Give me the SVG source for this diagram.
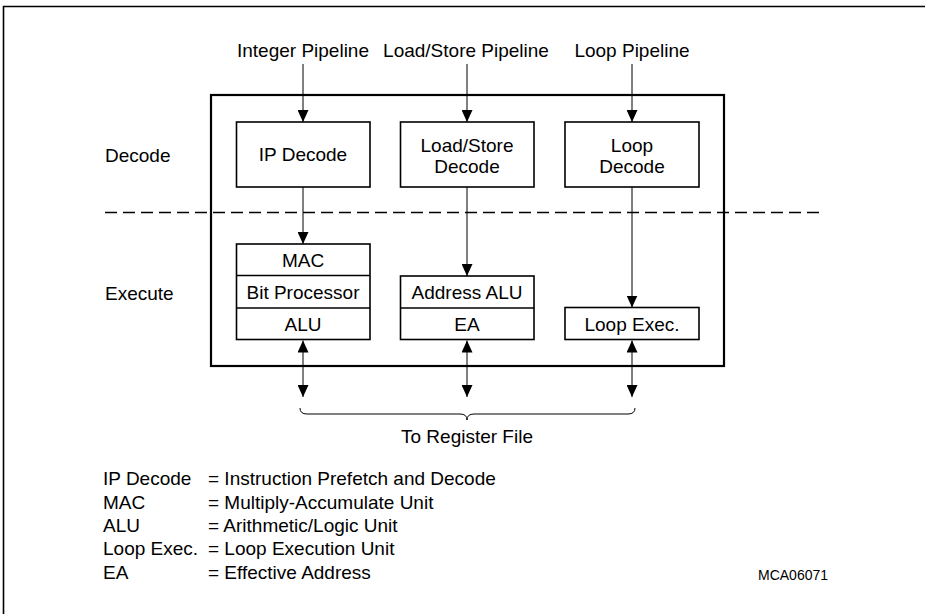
<svg xmlns="http://www.w3.org/2000/svg" width="925" height="614" viewBox="0 0 925 614">
<style>
text{font-family:"Liberation Sans",Arial,sans-serif;font-size:19px;fill:#000}
.c{text-anchor:middle}
.box{fill:#fff;stroke:#000;stroke-width:1.6}
.frame{fill:none;stroke:#000;stroke-width:2.2}
.ln{stroke:#000;stroke-width:1;fill:none}
</style>
<defs>
<marker id="ah" viewBox="0 0 12 11" refX="12" refY="5.5" markerWidth="12" markerHeight="11" markerUnits="userSpaceOnUse" orient="auto-start-reverse">
<path d="M0,0 L12,5.5 L0,11 Z" fill="#000"/>
</marker>
</defs>
<rect width="925" height="614" fill="#fff"/>
<path d="M3.5,614 V6.5 H925" fill="none" stroke="#000" stroke-width="1.6"/>

<g id="labels">
<text class="c" x="303" y="57">Integer Pipeline</text>
<text class="c" x="466" y="57">Load/Store Pipeline</text>
<text class="c" x="632" y="57">Loop Pipeline</text>
<text x="105" y="162">Decode</text>
<text x="105" y="300">Execute</text>
<text class="c" x="467" y="443">To Register File</text>
</g>

<g id="core">
<rect class="frame" x="211" y="95" width="513" height="271"/>
</g>
<line x1="105" y1="212.5" x2="824" y2="212.5" stroke="#000" stroke-width="1.6" stroke-dasharray="12 6"/>

<g id="connectors">
<line class="ln" x1="303" y1="64" x2="303" y2="122" marker-end="url(#ah)"/>
<line class="ln" x1="467" y1="64" x2="467" y2="122" marker-end="url(#ah)"/>
<line class="ln" x1="632" y1="64" x2="632" y2="122" marker-end="url(#ah)"/>
<line class="ln" x1="303" y1="187" x2="303" y2="244" marker-end="url(#ah)"/>
<line class="ln" x1="467" y1="187" x2="467" y2="276" marker-end="url(#ah)"/>
<line class="ln" x1="632" y1="187" x2="632" y2="307.5" marker-end="url(#ah)"/>
<line class="ln" x1="303" y1="340.5" x2="303" y2="397" marker-start="url(#ah)" marker-end="url(#ah)"/>
<line class="ln" x1="467" y1="340.5" x2="467" y2="397" marker-start="url(#ah)" marker-end="url(#ah)"/>
<line class="ln" x1="632" y1="340.5" x2="632" y2="397" marker-start="url(#ah)" marker-end="url(#ah)"/>
<path class="ln" d="M300,408 Q300,414 307,414 H460 Q467,414 467,420 Q467,414 474,414 H628 Q635,414 635,408"/>
</g>

<g id="ip-decode">
<rect class="box" x="236.5" y="122" width="133.5" height="65"/>
<text class="c" x="303" y="161">IP Decode</text>
</g>
<g id="ls-decode">
<rect class="box" x="400.5" y="122" width="133.5" height="65"/>
<text class="c" x="467" y="152">Load/Store</text>
<text class="c" x="467" y="172.5">Decode</text>
</g>
<g id="loop-decode">
<rect class="box" x="565" y="122" width="134" height="65"/>
<text class="c" x="632" y="152">Loop</text>
<text class="c" x="632" y="172.5">Decode</text>
</g>

<g id="ip-exec">
<rect class="box" x="236.5" y="244" width="133.5" height="95.5"/>
<line x1="236.5" y1="275.5" x2="370" y2="275.5" stroke="#000" stroke-width="1.6"/>
<line x1="236.5" y1="308" x2="370" y2="308" stroke="#000" stroke-width="1.6"/>
<text class="c" x="303" y="267">MAC</text>
<text class="c" x="303" y="299">Bit Processor</text>
<text class="c" x="303" y="331">ALU</text>
</g>
<g id="ls-exec">
<rect class="box" x="400.5" y="276" width="133.5" height="63.5"/>
<line x1="400.5" y1="308" x2="534" y2="308" stroke="#000" stroke-width="1.6"/>
<text class="c" x="467" y="299">Address ALU</text>
<text class="c" x="467" y="331">EA</text>
</g>
<g id="loop-exec">
<rect class="box" x="565" y="307.5" width="134" height="32"/>
<text class="c" x="632" y="331">Loop Exec.</text>
</g>

<g id="legend">
<text x="103" y="485">IP Decode</text>
<text x="208" y="485">= Instruction Prefetch and Decode</text>
<text x="103" y="508.5">MAC</text>
<text x="208" y="508.5">= Multiply-Accumulate Unit</text>
<text x="103" y="532">ALU</text>
<text x="208" y="532">= Arithmetic/Logic Unit</text>
<text x="103" y="555">Loop Exec.</text>
<text x="208" y="555">= Loop Execution Unit</text>
<text x="103" y="578.5">EA</text>
<text x="208" y="578.5">= Effective Address</text>
<text x="758" y="580" style="font-size:14px">MCA06071</text>
</g>
</svg>
